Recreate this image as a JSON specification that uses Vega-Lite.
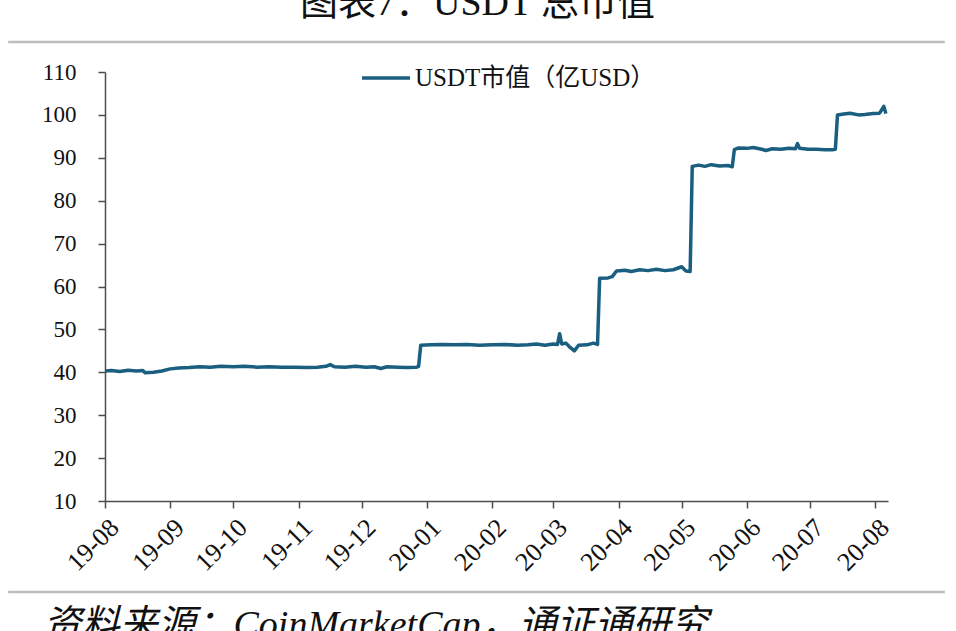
{
  "$schema": "https://vega.github.io/schema/vega-lite/v6.json",
  "width": 783,
  "height": 429,
  "autosize": {"type": "none"},
  "padding": {"left": 105, "top": 72, "right": 68, "bottom": 130},
  "background": "white",
  "config": {
    "view": {"stroke": null},
    "axis": {
      "domainColor": "#4d4d4d",
      "domainWidth": 1.5,
      "tickColor": "#4d4d4d",
      "tickWidth": 1.5,
      "tickSize": 7,
      "grid": false,
      "labelFont": "Liberation Serif",
      "labelFontSize": 23,
      "labelColor": "#111111"
    }
  },
  "layer": [
    {
      "data": {
        "values": [
          {"date": "2019-08-01", "value": 40.3},
          {"date": "2019-08-04", "value": 40.4},
          {"date": "2019-08-08", "value": 40.2},
          {"date": "2019-08-12", "value": 40.5},
          {"date": "2019-08-16", "value": 40.3},
          {"date": "2019-08-19", "value": 40.4},
          {"date": "2019-08-20", "value": 39.9},
          {"date": "2019-08-24", "value": 40.0},
          {"date": "2019-08-28", "value": 40.3},
          {"date": "2019-09-01", "value": 40.8},
          {"date": "2019-09-05", "value": 41.0},
          {"date": "2019-09-10", "value": 41.1},
          {"date": "2019-09-15", "value": 41.3},
          {"date": "2019-09-20", "value": 41.2},
          {"date": "2019-09-25", "value": 41.4},
          {"date": "2019-10-01", "value": 41.3},
          {"date": "2019-10-06", "value": 41.4},
          {"date": "2019-10-12", "value": 41.2},
          {"date": "2019-10-18", "value": 41.3},
          {"date": "2019-10-24", "value": 41.2},
          {"date": "2019-10-30", "value": 41.2},
          {"date": "2019-11-05", "value": 41.1},
          {"date": "2019-11-10", "value": 41.2},
          {"date": "2019-11-14", "value": 41.4},
          {"date": "2019-11-16", "value": 41.8},
          {"date": "2019-11-18", "value": 41.3},
          {"date": "2019-11-23", "value": 41.2},
          {"date": "2019-11-28", "value": 41.4},
          {"date": "2019-12-03", "value": 41.2},
          {"date": "2019-12-07", "value": 41.3},
          {"date": "2019-12-10", "value": 40.9},
          {"date": "2019-12-13", "value": 41.3},
          {"date": "2019-12-18", "value": 41.2},
          {"date": "2019-12-22", "value": 41.1},
          {"date": "2019-12-27", "value": 41.2},
          {"date": "2019-12-28", "value": 41.4},
          {"date": "2019-12-29", "value": 46.3},
          {"date": "2020-01-03", "value": 46.4},
          {"date": "2020-01-08", "value": 46.5},
          {"date": "2020-01-14", "value": 46.4},
          {"date": "2020-01-20", "value": 46.5},
          {"date": "2020-01-26", "value": 46.3},
          {"date": "2020-02-01", "value": 46.4},
          {"date": "2020-02-07", "value": 46.5},
          {"date": "2020-02-13", "value": 46.3},
          {"date": "2020-02-18", "value": 46.4},
          {"date": "2020-02-22", "value": 46.6},
          {"date": "2020-02-26", "value": 46.3},
          {"date": "2020-03-01", "value": 46.6},
          {"date": "2020-03-03", "value": 46.5},
          {"date": "2020-03-04", "value": 49.0},
          {"date": "2020-03-05", "value": 46.6},
          {"date": "2020-03-07", "value": 46.8},
          {"date": "2020-03-09", "value": 45.8},
          {"date": "2020-03-11", "value": 45.0},
          {"date": "2020-03-13", "value": 46.3},
          {"date": "2020-03-17", "value": 46.4},
          {"date": "2020-03-20", "value": 46.8},
          {"date": "2020-03-22", "value": 46.5},
          {"date": "2020-03-23", "value": 61.9},
          {"date": "2020-03-27", "value": 62.0},
          {"date": "2020-03-29", "value": 62.3},
          {"date": "2020-03-31", "value": 63.6},
          {"date": "2020-04-04", "value": 63.8},
          {"date": "2020-04-07", "value": 63.5},
          {"date": "2020-04-11", "value": 63.9},
          {"date": "2020-04-15", "value": 63.7},
          {"date": "2020-04-19", "value": 64.0},
          {"date": "2020-04-23", "value": 63.7},
          {"date": "2020-04-27", "value": 63.9},
          {"date": "2020-05-01", "value": 64.6},
          {"date": "2020-05-03", "value": 63.6},
          {"date": "2020-05-05", "value": 63.5},
          {"date": "2020-05-06", "value": 88.0},
          {"date": "2020-05-09", "value": 88.3},
          {"date": "2020-05-12", "value": 88.0},
          {"date": "2020-05-15", "value": 88.4},
          {"date": "2020-05-19", "value": 88.1},
          {"date": "2020-05-23", "value": 88.2},
          {"date": "2020-05-25", "value": 87.9},
          {"date": "2020-05-26", "value": 91.9},
          {"date": "2020-05-28", "value": 92.3},
          {"date": "2020-06-01", "value": 92.2},
          {"date": "2020-06-04", "value": 92.4},
          {"date": "2020-06-08", "value": 92.0},
          {"date": "2020-06-10", "value": 91.7},
          {"date": "2020-06-13", "value": 92.1},
          {"date": "2020-06-17", "value": 92.0},
          {"date": "2020-06-21", "value": 92.2},
          {"date": "2020-06-24", "value": 92.1},
          {"date": "2020-06-25", "value": 93.3},
          {"date": "2020-06-26", "value": 92.2},
          {"date": "2020-06-30", "value": 92.0},
          {"date": "2020-07-04", "value": 92.0},
          {"date": "2020-07-08", "value": 91.9},
          {"date": "2020-07-12", "value": 91.9},
          {"date": "2020-07-13", "value": 92.0},
          {"date": "2020-07-14", "value": 100.0},
          {"date": "2020-07-17", "value": 100.2},
          {"date": "2020-07-20", "value": 100.4},
          {"date": "2020-07-24", "value": 100.0},
          {"date": "2020-07-27", "value": 100.1},
          {"date": "2020-07-31", "value": 100.3},
          {"date": "2020-08-03", "value": 100.4},
          {"date": "2020-08-05", "value": 102.0},
          {"date": "2020-08-06", "value": 100.3}
        ]
      },
      "mark": {"type": "line", "strokeWidth": 3.5, "strokeJoin": "round"},
      "encoding": {
        "x": {
          "field": "date",
          "type": "temporal",
          "scale": {
            "type": "utc",
            "domain": [
              {"year": 2019, "month": 8, "date": 1, "utc": true},
              {"year": 2020, "month": 8, "date": 7, "utc": true}
            ]
          },
          "axis": {
            "values": [
              {"year": 2019, "month": 8, "date": 1, "utc": true},
              {"year": 2019, "month": 9, "date": 1, "utc": true},
              {"year": 2019, "month": 10, "date": 1, "utc": true},
              {"year": 2019, "month": 11, "date": 1, "utc": true},
              {"year": 2019, "month": 12, "date": 1, "utc": true},
              {"year": 2020, "month": 1, "date": 1, "utc": true},
              {"year": 2020, "month": 2, "date": 1, "utc": true},
              {"year": 2020, "month": 3, "date": 1, "utc": true},
              {"year": 2020, "month": 4, "date": 1, "utc": true},
              {"year": 2020, "month": 5, "date": 1, "utc": true},
              {"year": 2020, "month": 6, "date": 1, "utc": true},
              {"year": 2020, "month": 7, "date": 1, "utc": true},
              {"year": 2020, "month": 8, "date": 1, "utc": true}
            ],
            "format": "%y-%m",
            "labelFontSize": 26,
            "labelAngle": -45,
            "labelAlign": "right",
            "labelBaseline": "top",
            "labelPadding": 6,
            "labelOverlap": false,
            "labelBound": false,
            "labelFlush": false,
            "title": "资料来源：CoinMarketCap，通证通研究",
            "titleFont": "Liberation Serif, Noto Sans CJK SC",
            "titleFontSize": 38,
            "titleFontStyle": "italic",
            "titleFontWeight": "normal",
            "titleColor": "#111111",
            "titleAnchor": "start",
            "titleAlign": "left",
            "titleBaseline": "top",
            "titleX": -62,
            "titleY": 105
          }
        },
        "y": {
          "field": "value",
          "type": "quantitative",
          "scale": {"domain": [10, 110], "nice": false, "zero": false},
          "axis": {
            "values": [10, 20, 30, 40, 50, 60, 70, 80, 90, 100, 110],
            "labelPadding": 22,
            "title": null
          }
        },
        "color": {
          "datum": "USDT市值（亿USD）",
          "scale": {"range": ["#1a5e80"]},
          "legend": {
            "title": null,
            "orient": "none",
            "legendX": 255,
            "legendY": -20,
            "padding": 0,
            "symbolType": "stroke",
            "symbolSize": 2304,
            "symbolStrokeWidth": 3.5,
            "labelFont": "Liberation Serif, Noto Sans CJK SC",
            "labelFontSize": 25,
            "labelColor": "#111111",
            "labelOffset": 3,
            "labelLimit": 400
          }
        }
      }
    },
    {
      "data": {"values": [{}]},
      "mark": {
        "type": "text",
        "text": "图表7：USDT 总市值",
        "font": "Liberation Serif, Noto Sans CJK SC",
        "fontSize": 38,
        "align": "center",
        "baseline": "alphabetic",
        "color": "#111111"
      },
      "encoding": {
        "x": {"datum": {"year": 2020, "month": 1, "date": 25, "utc": true}, "type": "temporal"},
        "y": {"datum": 123.3, "type": "quantitative"}
      }
    },
    {
      "data": {"values": [{}]},
      "mark": {"type": "rule", "color": "#bdbdbd", "strokeWidth": 2.5},
      "encoding": {
        "x": {"datum": {"year": 2019, "month": 6, "date": 16, "utc": true}, "type": "temporal"},
        "x2": {"datum": {"year": 2020, "month": 9, "date": 3, "utc": true}},
        "y": {"datum": 117, "type": "quantitative"}
      }
    },
    {
      "data": {"values": [{}]},
      "mark": {"type": "rule", "color": "#bdbdbd", "strokeWidth": 2.5},
      "encoding": {
        "x": {"datum": {"year": 2019, "month": 6, "date": 16, "utc": true}, "type": "temporal"},
        "x2": {"datum": {"year": 2020, "month": 9, "date": 3, "utc": true}},
        "y": {"datum": -11.2, "type": "quantitative"}
      }
    }
  ]
}
